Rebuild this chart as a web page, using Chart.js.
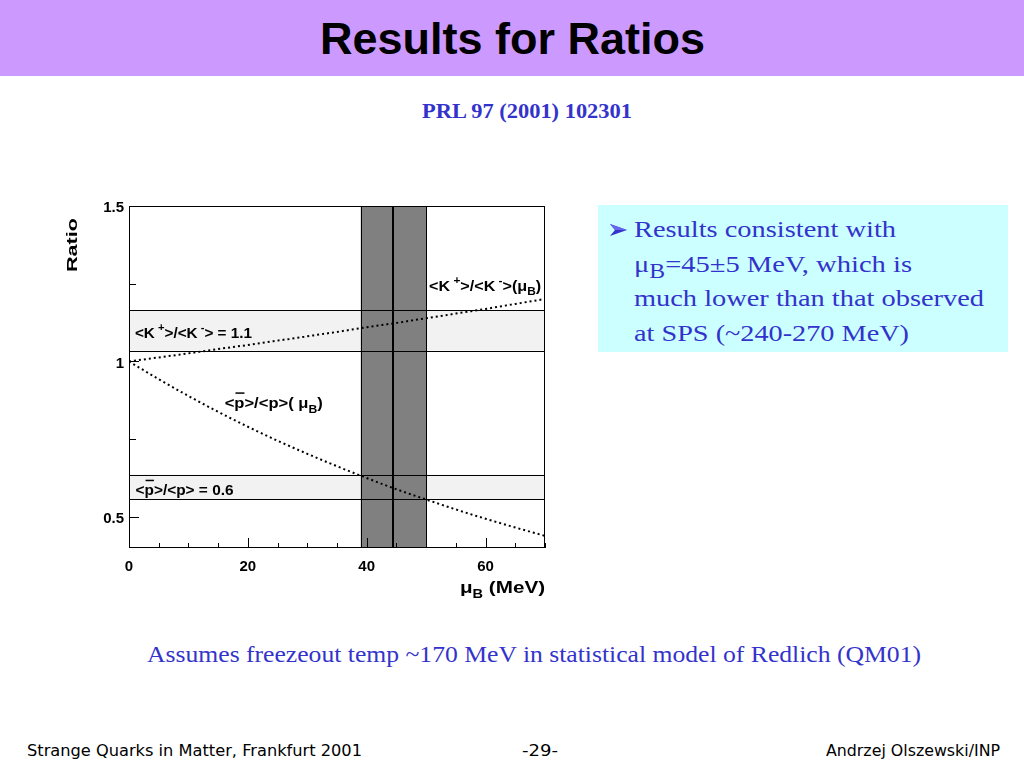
<!DOCTYPE html>
<html>
<head>
<meta charset="utf-8">
<title>Results for Ratios</title>
<script src="https://cdn.jsdelivr.net/npm/chart.js@4.4.0/dist/chart.umd.min.js"></script>
<style>
  html, body { margin: 0; padding: 0; }
  body { width: 1024px; height: 768px; position: relative; overflow: hidden; background: #fff; }
  .titlebar { position: absolute; left: 0; top: 0; width: 1024px; height: 76px; background: #cc99ff; }
  .txt { position: absolute; white-space: nowrap; transform-origin: 0 0; }
  .sans { font-family: "Liberation Sans", Arial, sans-serif; line-height: 1; }
  .serif { font-family: "Liberation Serif", "Times New Roman", serif; line-height: 1; color: #3333cc; }
  .foot { font-family: "DejaVu Sans", sans-serif; line-height: 1; color: #000; font-size: 16px; }
  .box { position: absolute; left: 598px; top: 205px; width: 410px; height: 147px; background: #ccffff; }
  .box sub { font-size: 16px; vertical-align: -5px; line-height: 0; }
  #plot { position: absolute; left: 0; top: 180px; width: 600px; height: 440px; }
</style>
</head>
<body>
<div class="titlebar"></div>
<div class="txt sans" id="title" style="left:320px; top:17px; font-size:44px; font-weight:bold;">Results for Ratios</div>
<div class="txt serif" id="ref" style="left:422px; top:100px; font-size:22px; font-weight:bold;">PRL 97 (2001) 102301</div>

<div class="box"></div>
<svg style="position:absolute; left:610px; top:224px;" width="18" height="12">
  <polygon points="0,0 17,6 0,12 5,6" fill="#3333cc"/>
  <polygon points="0,0 17,6 5,6" fill="#6666ee"/>
</svg>
<div class="txt serif" id="l1" style="left:634px; top:217px; font-size:24px;">Results consistent with</div>
<div class="txt serif" id="l2" style="left:634px; top:252px; font-size:24px;">μ<sub>B</sub>=45±5 MeV, which is</div>
<div class="txt serif" id="l3" style="left:634px; top:286px; font-size:24px;">much lower than that observed</div>
<div class="txt serif" id="l4" style="left:634px; top:321px; font-size:24px;">at SPS (~240-270 MeV)</div>

<div id="plot"><canvas id="ratioChart"></canvas></div>

<div class="txt serif" id="note" style="left:147px; top:642px; font-size:24px;">Assumes freezeout temp ~170 MeV in statistical model of Redlich (QM01)</div>

<div class="txt foot" id="f1" style="left:27px; top:743px;">Strange Quarks in Matter, Frankfurt 2001</div>
<div class="txt foot" id="f2" style="left:522px; top:743px;">-29-</div>
<div class="txt foot" id="f3" style="left:826px; top:743px;">Andrzej Olszewski/INP</div>

<script>
// --- Data ---
const muValues = [0, 5, 10, 15, 20, 25, 30, 35, 40, 45, 50, 55, 60, 65, 70];
const kRatio = [1.000, 1.013, 1.026, 1.040, 1.053, 1.067, 1.081, 1.095, 1.110, 1.124, 1.139, 1.154, 1.169, 1.185, 1.201];
const pRatio = [1.000, 0.943, 0.889, 0.838, 0.790, 0.745, 0.703, 0.663, 0.625, 0.589, 0.556, 0.524, 0.494, 0.466, 0.439];

// measured ratios with errors (horizontal bands) and the mu_B window
const kBand = [1.035, 1.165];
const pBand = [0.556, 0.636];
const muBand = [39, 50];
const muBest = 44.5;

// axes
const xTickValues = [0, 5, 10, 15, 20, 25, 30, 35, 40, 45, 50, 55, 60, 65, 70];
const xTickLabels = [0, 20, 40, 60];
const yTickValues = [0.5, 0.75, 1, 1.25, 1.5];
const yTickLabels = [0.5, 1, 1.5];

// --- fit html text to measured widths ---
function fitWidth(id, target) {
  const el = document.getElementById(id);
  const w = el.getBoundingClientRect().width;
  if (w > 0) el.style.transform = `scaleX(${target / w})`;
}
fitWidth('title', 385);
fitWidth('ref', 210);
fitWidth('l1', 262);
fitWidth('l2', 278);
fitWidth('l3', 350);
fitWidth('l4', 275);
fitWidth('note', 774);
fitWidth('f1', 335);
fitWidth('f2', 36);
fitWidth('f3', 174);

// --- rich text on canvas (sup/sub/overbar), stretched to a width ---
const FONT = '"Liberation Sans", Arial, sans-serif';
function drawRich(ctx, parts, x, y, size, width) {
  const fontFor = p => `bold ${p.sup || p.sub ? Math.round(size * 0.7) : size}px ${FONT}`;
  let w = 0;
  parts.forEach(p => { ctx.font = fontFor(p); w += ctx.measureText(p.t).width; });
  const sx = width ? width / w : 1;
  ctx.save();
  ctx.translate(x, y);
  ctx.scale(sx, 1);
  ctx.fillStyle = '#000';
  ctx.textBaseline = 'alphabetic';
  ctx.textAlign = 'left';
  let cx = 0;
  parts.forEach(p => {
    ctx.font = fontFor(p);
    const dy = p.sup ? -size * 0.45 : p.sub ? size * 0.3 : 0;
    ctx.fillText(p.t, cx, dy);
    const pw = ctx.measureText(p.t).width;
    if (p.bar) ctx.fillRect(cx + 1, -size * 1.05, pw - 1, 1.5);
    cx += pw;
  });
  ctx.restore();
}

// ROOT-like frame, bands, inward ticks and labels
const rootFrame = {
  id: 'rootFrame',
  beforeDatasetsDraw(chart) {
    const { ctx, chartArea: a, scales: { x, y } } = chart;
    ctx.save();
    // light grey bands for measured ratios
    ctx.fillStyle = '#f2f2f2';
    [kBand, pBand].forEach(b => {
      const top = y.getPixelForValue(b[1]);
      const bot = y.getPixelForValue(b[0]);
      ctx.fillRect(a.left, top, a.width, bot - top);
    });
    // dark band for mu_B window
    const l = x.getPixelForValue(muBand[0]);
    const r = x.getPixelForValue(muBand[1]);
    ctx.fillStyle = '#808080';
    ctx.fillRect(l, a.top, r - l, a.height);
    // edges
    ctx.strokeStyle = '#000';
    ctx.lineWidth = 1;
    ctx.beginPath();
    [kBand[0], kBand[1], pBand[0], pBand[1]].forEach(v => {
      const py = Math.round(y.getPixelForValue(v)) + 0.5;
      ctx.moveTo(a.left, py);
      ctx.lineTo(a.right, py);
    });
    muBand.forEach(v => {
      const px = Math.round(x.getPixelForValue(v)) + 0.5;
      ctx.moveTo(px, a.top);
      ctx.lineTo(px, a.bottom);
    });
    ctx.stroke();
    ctx.lineWidth = 2;
    ctx.beginPath();
    const cx = Math.round(x.getPixelForValue(muBest));
    ctx.moveTo(cx, a.top);
    ctx.lineTo(cx, a.bottom);
    ctx.stroke();
    ctx.restore();
  },
  afterDatasetsDraw(chart) {
    const { ctx, chartArea: a, scales: { x, y } } = chart;
    ctx.save();
    ctx.strokeStyle = '#000';
    ctx.lineWidth = 1;
    ctx.strokeRect(Math.round(a.left) + 0.5, Math.round(a.top) + 0.5, Math.round(a.width) - 1, Math.round(a.height) - 1);
    // inward ticks
    ctx.beginPath();
    xTickValues.forEach(v => {
      const px = Math.round(x.getPixelForValue(v)) + 0.5;
      const len = xTickLabels.includes(v) ? 10 : 5;
      ctx.moveTo(px, a.bottom);
      ctx.lineTo(px, a.bottom - len);
    });
    yTickValues.forEach(v => {
      const py = Math.round(y.getPixelForValue(v)) + 0.5;
      const len = yTickLabels.includes(v) ? 10 : 7;
      ctx.moveTo(a.left, py);
      ctx.lineTo(a.left + len, py);
    });
    ctx.stroke();
    ctx.restore();

    // curve and band labels, anchored in data coordinates
    drawRich(ctx, [{ t: '<K' }, { t: ' +', sup: true }, { t: '>/<K' }, { t: ' -', sup: true }, { t: '>(' }, { t: 'μ' }, { t: 'B', sub: true }, { t: ')' }],
      x.getPixelForValue(50.5), y.getPixelForValue(1.228), 15, 112);
    drawRich(ctx, [{ t: '<K' }, { t: ' +', sup: true }, { t: '>/<K' }, { t: ' -', sup: true }, { t: '> = 1.1' }],
      x.getPixelForValue(1.0), y.getPixelForValue(1.077), 15, 117);
    drawRich(ctx, [{ t: '<' }, { t: 'p', bar: true }, { t: '>/<p>( ' }, { t: 'μ' }, { t: 'B', sub: true }, { t: ')' }],
      x.getPixelForValue(16.1), y.getPixelForValue(0.850), 15, 98);
    drawRich(ctx, [{ t: '<' }, { t: 'p', bar: true }, { t: '>/<p> = 0.6' }],
      x.getPixelForValue(1.1), y.getPixelForValue(0.569), 15, 98);

    // axis titles
    drawRich(ctx, [{ t: 'μ' }, { t: 'B', sub: true }, { t: ' (MeV)' }], a.left + 331, a.bottom + 45, 17, 85);
    ctx.save();
    ctx.translate(a.left - 52, a.top + 66);
    ctx.rotate(-Math.PI / 2);
    drawRich(ctx, [{ t: 'Ratio' }], 0, 0, 15, 54);
    ctx.restore();
  }
};

const tickFont = { family: FONT, weight: 'bold', size: 15 };

new Chart(document.getElementById('ratioChart'), {
  type: 'line',
  data: {
    datasets: [
      {
        label: '<K+>/<K->(muB)',
        data: muValues.map((m, i) => ({ x: m, y: kRatio[i] })),
        borderColor: '#000',
        borderWidth: 2,
        borderDash: [2, 3],
        pointRadius: 0,
        cubicInterpolationMode: 'monotone',
        fill: false
      },
      {
        label: '<pbar>/<p>(muB)',
        data: muValues.map((m, i) => ({ x: m, y: pRatio[i] })),
        borderColor: '#000',
        borderWidth: 2,
        borderDash: [2, 3],
        pointRadius: 0,
        cubicInterpolationMode: 'monotone',
        fill: false
      }
    ]
  },
  options: {
    responsive: true,
    maintainAspectRatio: false,
    animation: false,
    layout: { padding: { top: 26, right: 55, left: 0, bottom: 0 } },
    plugins: { legend: { display: false }, tooltip: { enabled: false } },
    scales: {
      x: {
        type: 'linear',
        min: 0,
        max: 70,
        grid: { display: false, drawTicks: false },
        border: { display: false },
        afterBuildTicks: s => { s.ticks = xTickValues.map(v => ({ value: v })); },
        afterFit: s => { s.height = 72; },
        ticks: {
          autoSkip: false,
          maxRotation: 0,
          padding: 10,
          color: '#000',
          font: tickFont,
          callback: v => xTickLabels.includes(v) ? String(v) : ''
        }
      },
      y: {
        type: 'linear',
        min: 0.4,
        max: 1.5,
        grid: { display: false, drawTicks: false },
        border: { display: false },
        afterBuildTicks: s => { s.ticks = yTickValues.map(v => ({ value: v })); },
        afterFit: s => { s.width = 129; },
        ticks: {
          autoSkip: false,
          padding: 5,
          color: '#000',
          font: tickFont,
          labelOffset: 2,
          callback: v => yTickLabels.includes(v) ? String(v) : ''
        }
      }
    }
  },
  plugins: [rootFrame]
});
</script>
</body>
</html>
